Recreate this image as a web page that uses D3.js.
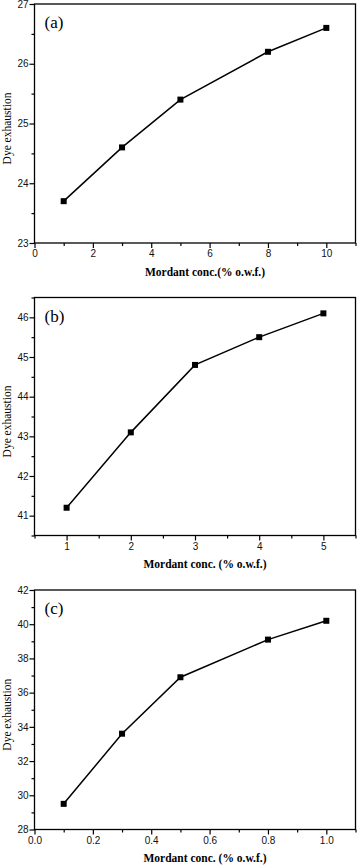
<!DOCTYPE html>
<html>
<head>
<meta charset="utf-8">
<script src="https://cdn.jsdelivr.net/npm/d3@7"></script>
<style>
  html, body { margin: 0; padding: 0; background: #fff; }
  svg { display: block; }
</style>
</head>
<body>
<svg id="chart" width="357" height="865"></svg>
<script>
// ---- Data ----
const panelLabels = ["(a)", "(b)", "(c)"];
const xTitles = ["Mordant conc.(% o.w.f.)", "Mordant conc. (% o.w.f.)", "Mordant conc. (% o.w.f.)"];
const yTitle = "Dye exhaustion";

const xA = [1, 3, 5, 8, 10];
const yA = [23.7, 24.6, 25.4, 26.2, 26.6];
const xB = [1, 2, 3, 4, 5];
const yB = [41.2, 43.1, 44.8, 45.5, 46.1];
const xC = [0.1, 0.3, 0.5, 0.8, 1.0];
const yC = [29.5, 33.6, 36.9, 39.1, 40.2];

const xTicksA = [0, 2, 4, 6, 8, 10];
const xMinorA = [1, 3, 5, 7, 9, 11];
const yTicksA = [23, 24, 25, 26, 27];
const yMinorA = [23.5, 24.5, 25.5, 26.5];

const xTicksB = [1, 2, 3, 4, 5];
const xMinorB = [0.5, 1.5, 2.5, 3.5, 4.5, 5.5];
const yTicksB = [41, 42, 43, 44, 45, 46];
const yMinorB = [40.5, 41.5, 42.5, 43.5, 44.5, 45.5, 46.5];

const xTicksC = [0.0, 0.2, 0.4, 0.6, 0.8, 1.0];
const xMinorC = [0.1, 0.3, 0.5, 0.7, 0.9, 1.1];
const yTicksC = [28, 30, 32, 34, 36, 38, 40, 42];
const yMinorC = [29, 31, 33, 35, 37, 39, 41];

const panels = [
  { label: panelLabels[0], xt: xTitles[0], xs: xA, ys: yA, xd: [0, 11], yd: [23, 27],
    xTicks: xTicksA, xMinor: xMinorA, yTicks: yTicksA, yMinor: yMinorA, xfmt: d3.format("d"), yfmt: d3.format("d"),
    top: 4, bottom: 243 },
  { label: panelLabels[1], xt: xTitles[1], xs: xB, ys: yB, xd: [0.5, 5.5], yd: [40.5, 46.5],
    xTicks: xTicksB, xMinor: xMinorB, yTicks: yTicksB, yMinor: yMinorB, xfmt: d3.format("d"), yfmt: d3.format("d"),
    top: 297.5, bottom: 535.5 },
  { label: panelLabels[2], xt: xTitles[2], xs: xC, ys: yC, xd: [0, 1.1], yd: [28, 42],
    xTicks: xTicksC, xMinor: xMinorC, yTicks: yTicksC, yMinor: yMinorC, xfmt: d3.format(".1f"), yfmt: d3.format("d"),
    top: 590, bottom: 829.5 }
];

const left = 34.5, right = 355.5;
const svg = d3.select("#chart");

panels.forEach(p => {
  const x = d3.scaleLinear().domain(p.xd).range([left, right]);
  const y = d3.scaleLinear().domain(p.yd).range([p.bottom, p.top]);
  const g = svg.append("g");

  // Minor ticks
  g.append("g").attr("transform", `translate(0,${p.bottom})`)
    .call(d3.axisBottom(x).tickValues(p.xMinor).tickSize(3).tickFormat(""))
    .call(s => s.select(".domain").remove());
  g.append("g").attr("transform", `translate(${left},0)`)
    .call(d3.axisLeft(y).tickValues(p.yMinor).tickSize(3).tickFormat(""))
    .call(s => s.select(".domain").remove());

  // Major ticks
  const xAx = g.append("g").attr("transform", `translate(0,${p.bottom})`)
    .call(d3.axisBottom(x).tickValues(p.xTicks).tickSize(5).tickPadding(2).tickFormat(p.xfmt));
  const yAx = g.append("g").attr("transform", `translate(${left},0)`)
    .call(d3.axisLeft(y).tickValues(p.yTicks).tickSize(5).tickPadding(1).tickFormat(p.yfmt));
  [xAx, yAx].forEach(a => {
    a.select(".domain").remove();
    a.selectAll("text").attr("font-family", "Liberation Sans, Arial, sans-serif")
      .attr("font-size", 10).attr("fill", "#111");
  });
  g.selectAll(".tick line").attr("stroke", "#000").attr("stroke-width", 1.2);

  // Frame
  g.append("rect").attr("x", left).attr("y", p.top)
    .attr("width", right - left).attr("height", p.bottom - p.top)
    .attr("fill", "none").attr("stroke", "#000").attr("stroke-width", 1.3);

  // Line
  const pts = p.xs.map((v, i) => [v, p.ys[i]]);
  g.append("path").datum(pts)
    .attr("d", d3.line().x(d => x(d[0])).y(d => y(d[1])))
    .attr("fill", "none").attr("stroke", "#000").attr("stroke-width", 1.5);
  g.selectAll("rect.pt").data(pts).join("rect").attr("class", "pt")
    .attr("x", d => x(d[0]) - 3).attr("y", d => y(d[1]) - 3)
    .attr("width", 6).attr("height", 6).attr("fill", "#000");

  // Panel label
  g.append("text").attr("x", left + 10).attr("y", p.top + 24)
    .attr("font-family", "Liberation Serif, Times New Roman, serif")
    .attr("font-size", 17).attr("fill", "#000").text(p.label);

  // X title
  g.append("text").attr("x", 205).attr("y", p.bottom + 32.5)
    .attr("text-anchor", "middle")
    .attr("font-family", "Liberation Serif, Times New Roman, serif")
    .attr("font-weight", "bold").attr("font-size", 11.5).attr("fill", "#000").text(p.xt);

  // Y title
  const cy = (p.top + p.bottom) / 2 + 5;
  g.append("text").attr("transform", `translate(11,${cy}) rotate(-90)`)
    .attr("text-anchor", "middle")
    .attr("font-family", "Liberation Serif, Times New Roman, serif")
    .attr("font-size", 11.5).attr("fill", "#000").text(yTitle);
});
</script>
</body>
</html>
